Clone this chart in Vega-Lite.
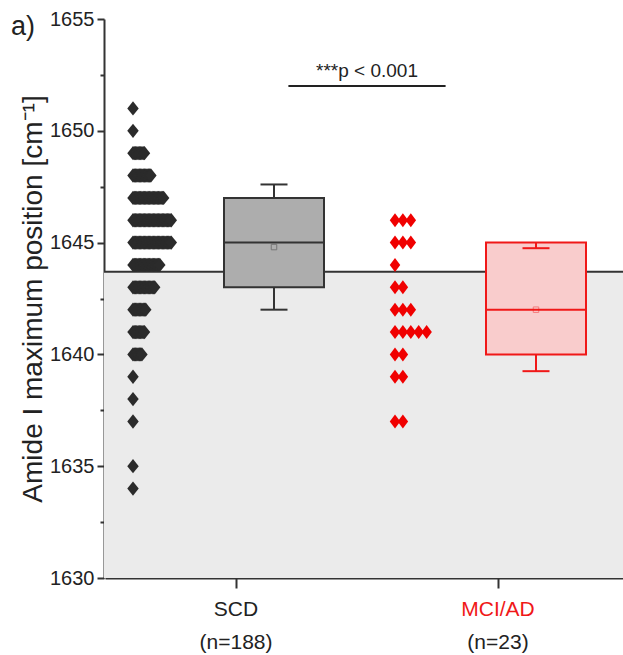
{
  "$schema": "https://vega.github.io/schema/vega-lite/v6.json",
  "width": 519,
  "height": 559,
  "autosize": {"type": "none"},
  "padding": {"left": 104, "top": 19, "right": 0, "bottom": 77},
  "background": "white",
  "config": {
    "view": {"stroke": null},
    "font": "Liberation Sans",
    "axis": {"domainColor": "#333333", "tickColor": "#333333", "domainWidth": 2, "tickWidth": 2, "labelColor": "#222222", "titleColor": "#222222", "grid": false, "labelFont": "Liberation Sans", "titleFont": "Liberation Sans"}
  },
  "title": {"text": "a)", "anchor": "start", "frame": "group", "fontSize": 27, "fontWeight": "normal", "color": "#222222", "dx": -93, "baseline": "bottom", "offset": 0, "dy": 59, "font": "Liberation Sans"},
  "datasets": {
    "thr": [{"t": 1643.7}],
    "sig": [{"label": "***p < 0.001", "y": 1652}],
    "box": [
      {"g": "SCD", "q1": 1643, "med": 1645, "q3": 1647, "mean": 1644.8, "lo": 1642.0, "hi": 1647.6},
      {"g": "MCI/AD", "q1": 1640, "med": 1642, "q3": 1645, "mean": 1642.0, "lo": 1639.25, "hi": 1644.75}
    ],
    "scd": [
      {"v": 1651}, {"v": 1650},
      {"v": 1649}, {"v": 1649}, {"v": 1649}, {"v": 1649}, {"v": 1649},
      {"v": 1649}, {"v": 1649}, {"v": 1649}, {"v": 1649}, {"v": 1649},
      {"v": 1648}, {"v": 1648}, {"v": 1648}, {"v": 1648}, {"v": 1648},
      {"v": 1648}, {"v": 1648}, {"v": 1648}, {"v": 1648}, {"v": 1648},
      {"v": 1648}, {"v": 1648}, {"v": 1648}, {"v": 1648}, {"v": 1648},
      {"v": 1647}, {"v": 1647}, {"v": 1647}, {"v": 1647}, {"v": 1647},
      {"v": 1647}, {"v": 1647}, {"v": 1647}, {"v": 1647}, {"v": 1647},
      {"v": 1647}, {"v": 1647}, {"v": 1647}, {"v": 1647}, {"v": 1647},
      {"v": 1647}, {"v": 1647}, {"v": 1647}, {"v": 1647}, {"v": 1647},
      {"v": 1647}, {"v": 1647}, {"v": 1647}, {"v": 1647}, {"v": 1647},
      {"v": 1646}, {"v": 1646}, {"v": 1646}, {"v": 1646}, {"v": 1646},
      {"v": 1646}, {"v": 1646}, {"v": 1646}, {"v": 1646}, {"v": 1646},
      {"v": 1646}, {"v": 1646}, {"v": 1646}, {"v": 1646}, {"v": 1646},
      {"v": 1646}, {"v": 1646}, {"v": 1646}, {"v": 1646}, {"v": 1646},
      {"v": 1646}, {"v": 1646}, {"v": 1646}, {"v": 1646}, {"v": 1646},
      {"v": 1646}, {"v": 1646}, {"v": 1646}, {"v": 1646}, {"v": 1646},
      {"v": 1646},
      {"v": 1645}, {"v": 1645}, {"v": 1645}, {"v": 1645}, {"v": 1645},
      {"v": 1645}, {"v": 1645}, {"v": 1645}, {"v": 1645}, {"v": 1645},
      {"v": 1645}, {"v": 1645}, {"v": 1645}, {"v": 1645}, {"v": 1645},
      {"v": 1645}, {"v": 1645}, {"v": 1645}, {"v": 1645}, {"v": 1645},
      {"v": 1645}, {"v": 1645}, {"v": 1645}, {"v": 1645}, {"v": 1645},
      {"v": 1645}, {"v": 1645}, {"v": 1645}, {"v": 1645}, {"v": 1645},
      {"v": 1645},
      {"v": 1644}, {"v": 1644}, {"v": 1644}, {"v": 1644}, {"v": 1644},
      {"v": 1644}, {"v": 1644}, {"v": 1644}, {"v": 1644}, {"v": 1644},
      {"v": 1644}, {"v": 1644}, {"v": 1644}, {"v": 1644}, {"v": 1644},
      {"v": 1644}, {"v": 1644}, {"v": 1644}, {"v": 1644}, {"v": 1644},
      {"v": 1644}, {"v": 1644},
      {"v": 1643}, {"v": 1643}, {"v": 1643}, {"v": 1643}, {"v": 1643},
      {"v": 1643}, {"v": 1643}, {"v": 1643}, {"v": 1643}, {"v": 1643},
      {"v": 1643}, {"v": 1643}, {"v": 1643}, {"v": 1643}, {"v": 1643},
      {"v": 1643}, {"v": 1643}, {"v": 1643},
      {"v": 1642}, {"v": 1642}, {"v": 1642}, {"v": 1642}, {"v": 1642},
      {"v": 1642}, {"v": 1642}, {"v": 1642}, {"v": 1642}, {"v": 1642},
      {"v": 1642},
      {"v": 1641}, {"v": 1641}, {"v": 1641}, {"v": 1641}, {"v": 1641},
      {"v": 1641}, {"v": 1641}, {"v": 1641}, {"v": 1641}, {"v": 1641},
      {"v": 1640}, {"v": 1640}, {"v": 1640}, {"v": 1640}, {"v": 1640},
      {"v": 1640}, {"v": 1640}, {"v": 1640},
      {"v": 1639}, {"v": 1638}, {"v": 1637}, {"v": 1635}, {"v": 1634}
    ],
    "mci": [
      {"v": 1646}, {"v": 1646}, {"v": 1646},
      {"v": 1645}, {"v": 1645}, {"v": 1645},
      {"v": 1644},
      {"v": 1643}, {"v": 1643},
      {"v": 1642}, {"v": 1642}, {"v": 1642},
      {"v": 1641}, {"v": 1641}, {"v": 1641}, {"v": 1641}, {"v": 1641},
      {"v": 1640}, {"v": 1640},
      {"v": 1639}, {"v": 1639},
      {"v": 1637}, {"v": 1637}
    ]
  },
  "resolve": {"scale": {"xOffset": "independent"}, "axis": {"x": "independent", "y": "independent"}},
  "layer": [
    {
      "data": {"name": "thr"},
      "layer": [
        {
          "mark": {"type": "rect", "color": "#ebebeb"},
          "encoding": {
            "y": {"field": "t", "type": "quantitative", "scale": {"domain": [1630, 1655], "nice": false, "zero": false}, "axis": null},
            "y2": {"datum": 1630}
          }
        },
        {
          "mark": {"type": "rule", "color": "#333333", "strokeWidth": 2},
          "encoding": {
            "y": {"field": "t", "type": "quantitative", "axis": null}
          }
        }
      ]
    },
    {
      "data": {"name": "scd"},
      "transform": [{"window": [{"op": "row_number", "as": "k"}], "groupby": ["v"]}],
      "mark": {"type": "point", "shape": "M0,-1L0.8,0L0,1L-0.8,0Z", "filled": true, "size": 205, "color": "#2b2b2b", "opacity": 1, "strokeWidth": 0},
      "encoding": {
        "x": {
          "datum": "SCD", "type": "nominal",
          "scale": {"domain": ["SCD", "MCI/AD"], "range": [1, 525], "paddingInner": 0, "paddingOuter": 0},
          "axis": {
            "orient": "bottom", "title": null, "tickSize": 10, "labelPadding": 10, "labelFontSize": 21, "labelAngle": 0,
            "labelColor": {"condition": {"test": "datum.value == 'MCI/AD'", "value": "#f01818"}, "value": "#222222"}
          }
        },
        "xOffset": {"field": "k", "type": "quantitative", "scale": {"domain": [1, 31], "range": [28, 66.3]}},
        "y": {
          "field": "v", "type": "quantitative",
          "scale": {"domain": [1630, 1655], "nice": false, "zero": false},
          "axis": {
            "orient": "left",
            "values": [1630, 1632.5, 1635, 1637.5, 1640, 1642.5, 1645, 1647.5, 1650, 1652.5, 1655],
            "format": "d",
            "labelExpr": "datum.value % 5 === 0 ? datum.label : ''",
            "tickSize": {"condition": {"test": "datum.value % 5 === 0", "value": 7}, "value": 4},
            "labelFontSize": 20, "labelPadding": 3, "labelFlush": false, "labelOverlap": false,
            "title": "Amide I maximum position [cm⁻¹]", "titleFontSize": 28, "titleFontWeight": "normal", "titlePadding": 2
          }
        }
      }
    },
    {
      "data": {"name": "mci"},
      "transform": [{"window": [{"op": "row_number", "as": "k"}], "groupby": ["v"]}],
      "mark": {"type": "point", "shape": "M0,-1L0.75,0L0,1L-0.75,0Z", "filled": true, "size": 196, "color": "#f00000", "opacity": 1, "strokeWidth": 0},
      "encoding": {
        "x": {"datum": "MCI/AD", "type": "nominal", "axis": null},
        "xOffset": {"field": "k", "type": "quantitative", "scale": {"domain": [1, 5], "range": [28, 59.6]}},
        "y": {"field": "v", "type": "quantitative", "axis": null}
      }
    },
    {
      "data": {"name": "box"},
      "encoding": {
        "x": {"field": "g", "type": "nominal", "axis": null},
        "xOffset": {"datum": "box", "type": "nominal", "scale": {"domain": ["box"], "range": [119, 219], "paddingInner": 0, "paddingOuter": 0}}
      },
      "layer": [
        {
          "mark": {"type": "bar", "strokeWidth": 2},
          "encoding": {
            "y": {"field": "q1", "type": "quantitative", "axis": null},
            "y2": {"field": "q3"},
            "fill": {"field": "g", "type": "nominal", "scale": {"domain": ["SCD", "MCI/AD"], "range": ["#adadad", "#f9cccc"]}, "legend": null},
            "stroke": {"field": "g", "type": "nominal", "scale": {"domain": ["SCD", "MCI/AD"], "range": ["#333333", "#f01818"]}, "legend": null}
          }
        },
        {
          "mark": {"type": "rule", "strokeWidth": 2},
          "encoding": {
            "y": {"field": "lo", "type": "quantitative", "axis": null},
            "y2": {"field": "q1"},
            "color": {"field": "g", "type": "nominal", "scale": {"domain": ["SCD", "MCI/AD"], "range": ["#333333", "#f01818"]}, "legend": null}
          }
        },
        {
          "mark": {"type": "rule", "strokeWidth": 2},
          "encoding": {
            "y": {"field": "q3", "type": "quantitative", "axis": null},
            "y2": {"field": "hi"},
            "color": {"field": "g", "type": "nominal", "legend": null}
          }
        },
        {
          "mark": {"type": "tick", "thickness": 2, "size": 100, "opacity": 1},
          "encoding": {
            "y": {"field": "med", "type": "quantitative", "axis": null},
            "color": {"field": "g", "type": "nominal", "legend": null}
          }
        },
        {
          "mark": {"type": "tick", "thickness": 2, "size": 27, "opacity": 1},
          "encoding": {
            "y": {"field": "lo", "type": "quantitative", "axis": null},
            "color": {"field": "g", "type": "nominal", "legend": null}
          }
        },
        {
          "mark": {"type": "tick", "thickness": 2, "size": 27, "opacity": 1},
          "encoding": {
            "y": {"field": "hi", "type": "quantitative", "axis": null},
            "color": {"field": "g", "type": "nominal", "legend": null}
          }
        },
        {
          "mark": {"type": "point", "shape": "square", "size": 30, "filled": false, "strokeWidth": 1, "opacity": 0.45},
          "encoding": {
            "y": {"field": "mean", "type": "quantitative", "axis": null},
            "color": {"field": "g", "type": "nominal", "legend": null}
          }
        }
      ]
    },
    {
      "data": {"name": "sig"},
      "mark": {"type": "rule", "color": "#222222", "strokeWidth": 2},
      "encoding": {
        "x": {"datum": "SCD", "type": "nominal", "bandPosition": 0.7, "axis": null},
        "x2": {"datum": "MCI/AD", "bandPosition": 0.3},
        "y": {"field": "y", "type": "quantitative", "axis": null}
      }
    },
    {
      "data": {"name": "sig"},
      "mark": {"type": "text", "fontSize": 19, "baseline": "bottom", "dy": -5, "color": "#222222", "font": "Liberation Sans"},
      "encoding": {
        "x": {
          "datum": "SCD", "type": "nominal", "bandPosition": 1,
          "axis": {
            "orient": "bottom", "title": null, "domain": false, "tickSize": 10, "tickOpacity": 0,
            "labelPadding": 43, "labelFontSize": 21, "labelAngle": 0, "labelColor": "#222222",
            "labelExpr": "datum.value == 'SCD' ? '(n=188)' : '(n=23)'"
          }
        },
        "y": {"field": "y", "type": "quantitative", "axis": null},
        "text": {"field": "label"}
      }
    }
  ]
}
